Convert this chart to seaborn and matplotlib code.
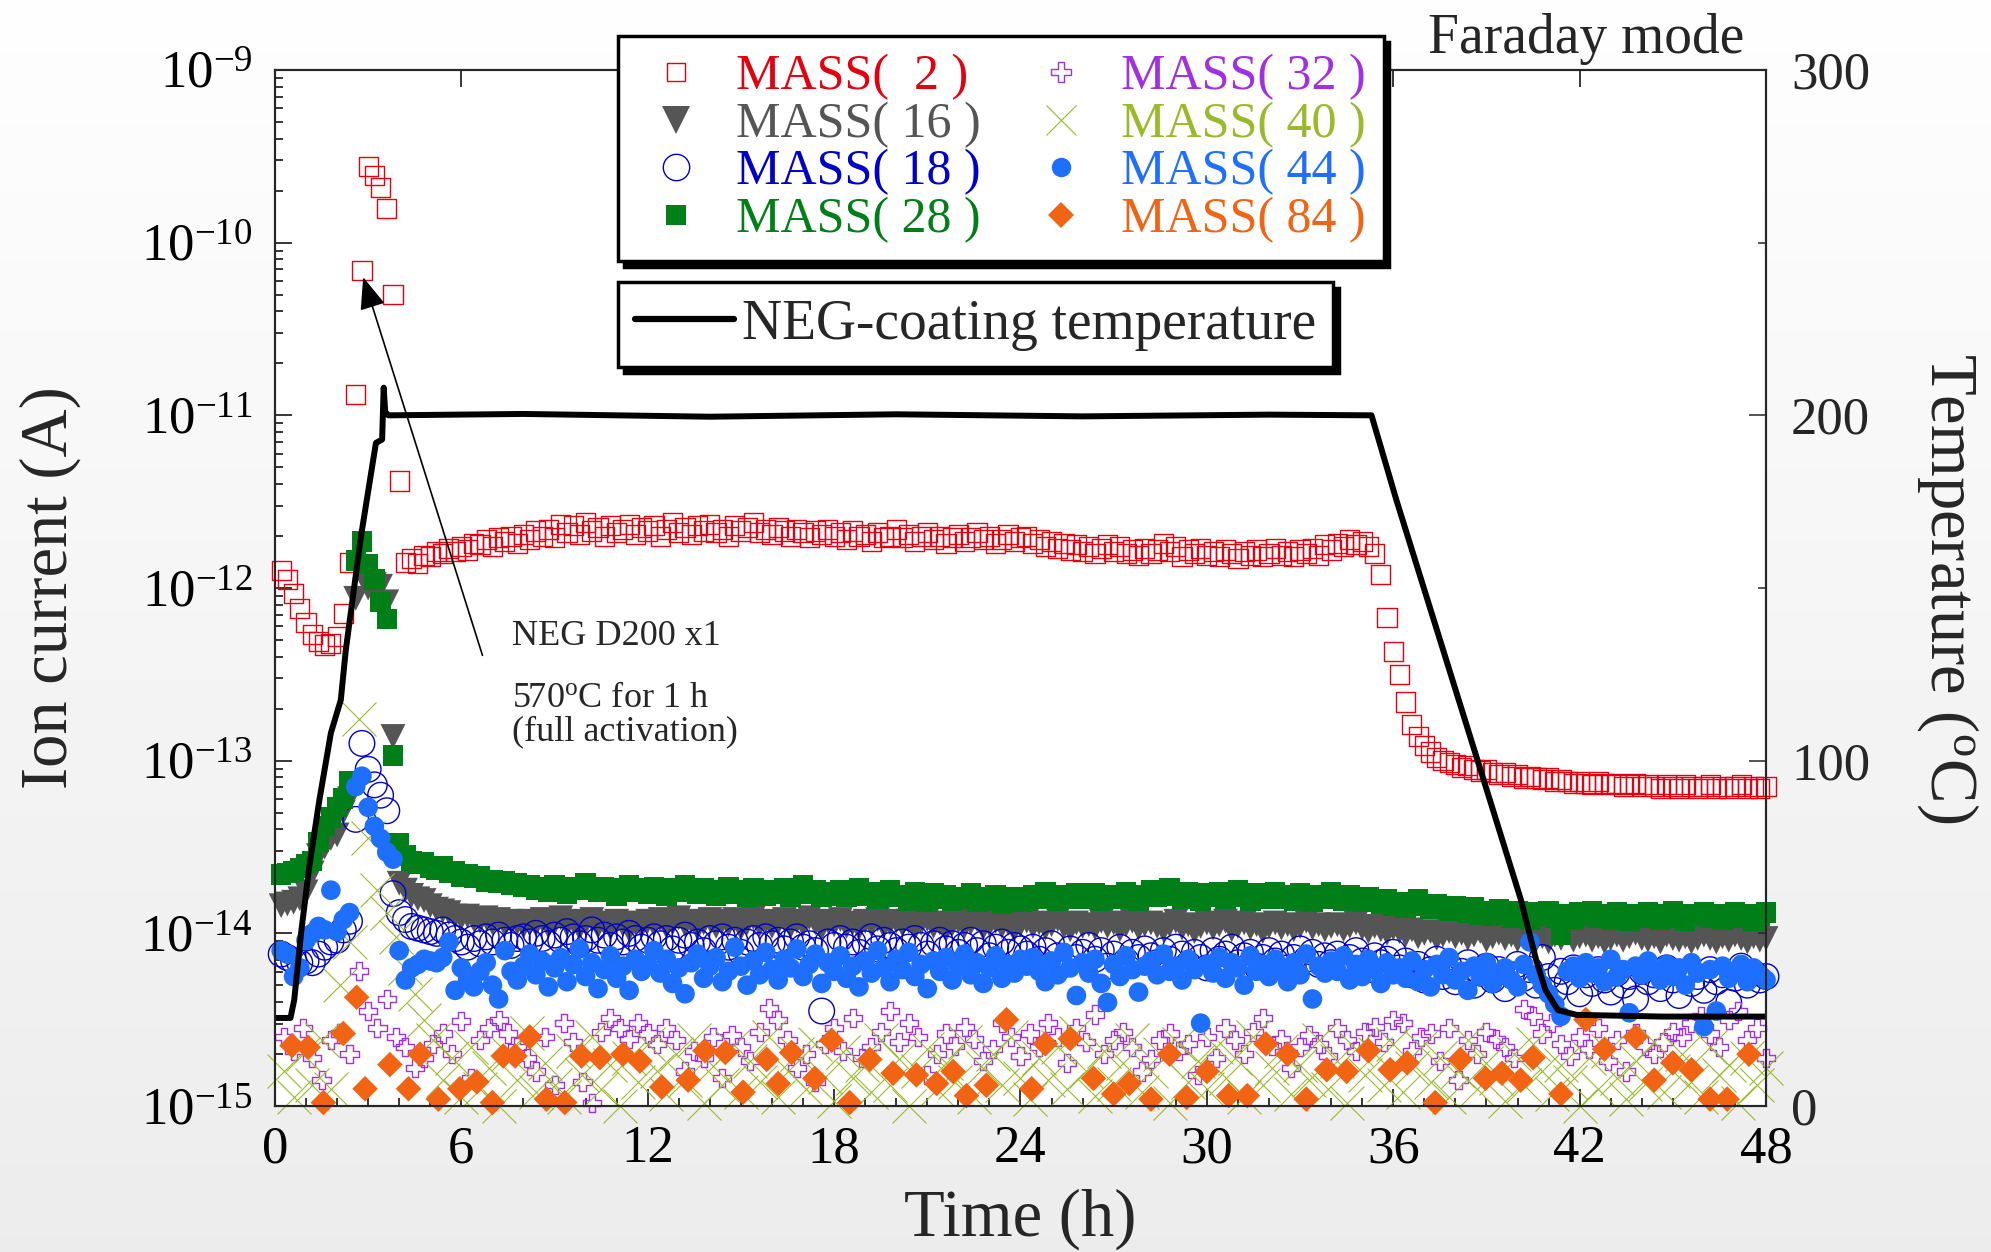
"""NEG D200 activation: RGA ion currents (Faraday mode) and coating temperature vs time."""

import matplotlib
matplotlib.use("Agg")
import matplotlib.pyplot as plt
import numpy as np
import pandas as pd
import seaborn as sns
from matplotlib.lines import Line2D
from matplotlib.ticker import LogLocator, MultipleLocator, NullFormatter

sns.set_theme(style="ticks")
plt.rcParams["font.family"] = ["Liberation Serif", "DejaVu Serif"]
plt.rcParams["mathtext.fontset"] = "custom"
plt.rcParams["mathtext.rm"] = "Liberation Serif"
plt.rcParams["mathtext.it"] = "Liberation Serif:italic"
plt.rcParams["mathtext.default"] = "regular"

# ---- data (log10 of ion current in A) ----
# dense scans: one reading every 0.2 h starting at 0.2 h
DENSE_STEP = 0.2
M2 = [
    -11.90, -11.95, -12.03, -12.12, -12.20, -12.27, -12.31, -12.33, -12.32, -12.28,
    -12.15, -11.85, -10.88, -10.16, -9.56, -9.61, -9.68, -9.80, -10.30, -11.38,
    -11.85, -11.83, -11.86, -11.81, -11.82, -11.79, -11.80, -11.77, -11.79, -11.76,
    -11.78, -11.74, -11.75, -11.72, -11.76, -11.71, -11.73, -11.70, -11.74, -11.69,
    -11.72, -11.67, -11.70, -11.66, -11.71, -11.63, -11.68, -11.64, -11.69, -11.62,
    -11.67, -11.65, -11.70, -11.64, -11.68, -11.66, -11.63, -11.69, -11.65, -11.67,
    -11.64, -11.70, -11.66, -11.62, -11.68, -11.65, -11.69, -11.64, -11.67, -11.63,
    -11.68, -11.66, -11.70, -11.64, -11.67, -11.65, -11.62, -11.68, -11.66, -11.69,
    -11.65, -11.67, -11.70, -11.66, -11.68, -11.71, -11.67, -11.69, -11.66, -11.70,
    -11.68, -11.72, -11.67, -11.70, -11.69, -11.73, -11.68, -11.71, -11.70, -11.66,
    -11.71, -11.69, -11.73, -11.70, -11.68, -11.72, -11.70, -11.74, -11.71, -11.69,
    -11.73, -11.71, -11.68, -11.72, -11.70, -11.74, -11.72, -11.69, -11.73, -11.71,
    -11.70, -11.74, -11.72, -11.76, -11.73, -11.77, -11.74, -11.78, -11.75, -11.79,
    -11.76, -11.80, -11.77, -11.75, -11.79, -11.76, -11.80, -11.78, -11.81, -11.77,
    -11.80, -11.78, -11.74, -11.79, -11.76, -11.82, -11.78, -11.80, -11.77, -11.81,
    -11.79, -11.82, -11.78, -11.80, -11.83, -11.79, -11.81, -11.78, -11.82, -11.80,
    -11.77, -11.81, -11.79, -11.82, -11.78, -11.80, -11.77, -11.81, -11.75, -11.78,
    -11.74, -11.76, -11.72, -11.75, -11.73, -11.76, -11.80, -11.92, -12.17, -12.37,
    -12.50, -12.66, -12.79, -12.86, -12.91, -12.95, -12.98, -13.00, -13.01, -13.02,
    -13.04, -13.03, -13.05, -13.06, -13.05, -13.07, -13.08, -13.07, -13.09, -13.08,
    -13.10, -13.09, -13.10, -13.11, -13.10, -13.12, -13.11, -13.12, -13.13, -13.12,
    -13.13, -13.14, -13.12, -13.13, -13.14, -13.13, -13.15, -13.14, -13.13, -13.15,
    -13.14, -13.15, -13.16, -13.14, -13.15, -13.16, -13.14, -13.15, -13.16, -13.15,
    -13.14, -13.16, -13.15, -13.16, -13.15, -13.14, -13.16, -13.15, -13.16, -13.15,
]
M16 = [
    -13.84, -13.83, -13.82, -13.80, -13.76, -13.65, -13.55, -13.50, -13.45, -13.43,
    -13.30, -13.22, -12.06, -11.92, -12.00, -11.98, -11.99, -12.08, -12.86, -13.71,
    -13.75, -13.78, -13.80, -13.81, -13.84, -13.86, -13.87, -13.88, -13.90, -13.91,
    -13.90, -13.92, -13.93, -13.91, -13.94, -13.92, -13.95, -13.93, -13.94, -13.96,
    -13.93, -13.95, -13.92, -13.96, -13.94, -13.91, -13.95, -13.93, -13.97, -13.94,
    -13.92, -13.96, -13.94, -13.97, -13.93, -13.95, -13.98, -13.94, -13.96, -13.93,
    -13.95, -13.92, -13.96, -13.94, -13.91, -13.95, -13.93, -13.97, -13.94, -13.92,
    -13.96, -13.93, -13.95, -13.92, -13.97, -13.94, -13.91, -13.95, -13.93, -13.96,
    -13.94, -13.92, -13.96, -13.93, -13.95, -13.91, -13.94, -13.97, -13.93, -13.95,
    -13.92, -13.96, -13.94, -13.97, -13.93, -13.95, -13.92, -13.96, -13.94, -13.93,
    -13.95, -13.93, -13.97, -13.94, -13.92, -13.96, -13.94, -13.98, -13.95, -13.93,
    -13.96, -13.94, -13.92, -13.97, -13.95, -13.93, -13.96, -13.94, -13.98, -13.95,
    -13.93, -13.96, -13.94, -13.97, -13.95, -13.92, -13.96, -13.98, -13.94, -13.96,
    -13.95, -13.97, -13.93, -13.96, -13.94, -13.98, -13.95, -13.93, -13.97, -13.95,
    -13.94, -13.96, -13.98, -13.95, -13.93, -13.97, -13.95, -13.99, -13.96, -13.94,
    -13.97, -13.95, -13.93, -13.98, -13.96, -13.94, -13.97, -13.95, -13.99, -13.96,
    -13.94, -13.97, -13.95, -13.98, -13.96, -13.93, -13.97, -13.95, -13.98, -13.96,
    -13.95, -13.98, -13.96, -13.94, -13.97, -13.99, -13.96, -13.98, -14.00, -13.97,
    -13.99, -14.01, -13.98, -14.02, -14.00, -13.99, -14.03, -14.01, -13.99, -14.02,
    -14.00, -14.03, -14.01, -13.99, -14.04, -14.02, -14.00, -14.03, -14.01, -14.04,
    -14.02, -14.00, -14.04, -14.02, -14.05, -14.01, -14.03, -14.00, -14.04, -14.02,
    -14.01, -14.04, -14.02, -14.05, -14.03, -14.01, -14.04, -14.02, -14.00, -14.03,
    -14.04, -14.02, -14.05, -14.01, -14.03, -14.04, -14.02, -14.05, -14.03, -14.01,
    -14.03, -14.05, -14.02, -14.04, -14.01, -14.03, -14.05, -14.02, -14.04, -14.03,
]
M18 = [
    -14.12, -14.14, -14.16, -14.17, -14.16, -14.17, -14.12, -14.08, -14.05, -14.04,
    -13.98, -13.93, -13.34, -12.90, -13.05, -13.14, -13.20, -13.29, -13.77, -13.88,
    -13.92, -13.96, -13.97, -13.98, -13.99, -14.00, -13.98, -14.01, -14.03, -14.05,
    -14.08, -14.03, -14.06, -14.02, -14.05, -14.01, -14.04, -14.07, -14.03, -14.02,
    -14.05, -14.00, -14.03, -14.06, -14.01, -14.04, -13.99, -14.02, -14.06, -14.03,
    -13.98, -14.04, -14.01, -14.07, -14.02, -14.05, -14.00, -14.03, -14.08, -14.04,
    -14.02, -14.06, -14.03, -14.09, -14.04, -14.01, -14.07, -14.05, -14.10, -14.03,
    -14.06, -14.02, -14.08, -14.04, -14.11, -14.05, -14.03, -14.07, -14.02, -14.06,
    -14.04, -14.09, -14.05, -14.02, -14.08, -14.06, -14.10, -14.45, -14.05, -14.07,
    -14.03, -14.08, -14.05, -14.11, -14.06, -14.02, -14.09, -14.04, -14.07, -14.10,
    -14.05, -14.08, -14.03, -14.07, -14.12, -14.06, -14.04, -14.09, -14.06, -14.11,
    -14.07, -14.04, -14.10, -14.06, -14.13, -14.08, -14.05, -14.11, -14.07, -14.09,
    -14.12, -14.08, -14.15, -14.10, -14.06, -14.13, -14.18, -14.09, -14.14, -14.11,
    -14.07, -14.15, -14.10, -14.19, -14.12, -14.08, -14.16, -14.11, -14.14, -14.09,
    -14.13, -14.17, -14.10, -14.15, -14.08, -14.12, -14.18, -14.11, -14.14, -14.20,
    -14.10, -14.15, -14.12, -14.08, -14.17, -14.13, -14.11, -14.19, -14.14, -14.10,
    -14.16, -14.12, -14.20, -14.14, -14.09, -14.15, -14.11, -14.18, -14.13, -14.17,
    -14.12, -14.19, -14.14, -14.10, -14.16, -14.21, -14.13, -14.17, -14.15, -14.11,
    -14.20, -14.16, -14.24, -14.18, -14.27, -14.21, -14.15, -14.25, -14.19, -14.28,
    -14.22, -14.17, -14.30, -14.23, -14.19, -14.27, -14.21, -14.32, -14.24, -14.18,
    -14.26, -14.21, -14.30, -14.14, -14.25, -14.33, -14.22, -14.28, -14.20, -14.35,
    -14.24, -14.29, -14.21, -14.27, -14.34, -14.23, -14.30, -14.25, -14.38, -14.22,
    -14.28, -14.24, -14.32, -14.20, -14.27, -14.36, -14.23, -14.29, -14.25, -14.33,
    -14.21, -14.28, -14.24, -14.40, -14.26, -14.19, -14.30, -14.23, -14.27, -14.25,
]
M28 = [
    -13.66, -13.65, -13.64, -13.62, -13.60, -13.58, -13.47, -13.38, -13.33, -13.27,
    -13.22, -13.12, -11.84, -11.73, -11.86, -11.95, -12.08, -12.18, -12.97, -13.48,
    -13.55, -13.58, -13.60, -13.59, -13.62, -13.63, -13.61, -13.65, -13.64, -13.67,
    -13.66, -13.68, -13.67, -13.70, -13.69, -13.71, -13.70, -13.72, -13.71, -13.73,
    -13.72, -13.75, -13.73, -13.76, -13.72, -13.74, -13.77, -13.73, -13.75, -13.71,
    -13.74, -13.76, -13.73, -13.75, -13.78, -13.74, -13.72, -13.76, -13.74, -13.77,
    -13.73, -13.75, -13.78, -13.74, -13.76, -13.72, -13.75, -13.77, -13.74, -13.76,
    -13.78, -13.75, -13.73, -13.77, -13.75, -13.79, -13.74, -13.76, -13.78, -13.75,
    -13.77, -13.74, -13.79, -13.76, -13.72, -13.77, -13.75, -13.79, -13.76, -13.78,
    -13.75, -13.79, -13.77, -13.74, -13.78, -13.76, -13.80, -13.77, -13.75, -13.79,
    -13.78, -13.81, -13.76, -13.79, -13.82, -13.77, -13.80, -13.78, -13.81, -13.79,
    -13.80, -13.77, -13.82, -13.79, -13.81, -13.78, -13.83, -13.80, -13.79, -13.82,
    -13.81, -13.78, -13.80, -13.76, -13.79, -13.81, -13.78, -13.80, -13.77, -13.79,
    -13.80, -13.77, -13.81, -13.79, -13.78, -13.80, -13.76, -13.79, -13.81, -13.78,
    -13.75, -13.79, -13.77, -13.74, -13.78, -13.80, -13.76, -13.79, -13.81, -13.77,
    -13.79, -13.76, -13.80, -13.78, -13.75, -13.79, -13.81, -13.77, -13.80, -13.78,
    -13.76, -13.80, -13.78, -13.81, -13.77, -13.79, -13.82, -13.78, -13.80, -13.76,
    -13.79, -13.81, -13.78, -13.80, -13.82, -13.79, -13.81, -13.83, -13.80, -13.84,
    -13.82, -13.85, -13.83, -13.80, -13.84, -13.86, -13.83, -13.85, -13.87, -13.84,
    -13.86, -13.88, -13.85, -13.89, -13.87, -13.90, -13.86, -13.88, -13.91, -13.87,
    -13.89, -13.92, -13.88, -13.90, -13.87, -13.91, -14.01, -13.89, -13.92, -13.88,
    -13.90, -13.87, -13.91, -13.89, -13.92, -13.88, -13.90, -13.93, -13.89, -13.91,
    -13.88, -13.90, -13.92, -13.89, -13.87, -13.91, -13.93, -13.89, -13.90, -13.88,
    -13.91, -13.89, -13.92, -13.90, -13.88, -13.91, -13.89, -13.93, -13.90, -13.88,
]
M44 = [
    -14.10, -14.12, -14.25, -14.20, -14.04, -14.00, -13.96, -13.98, -13.75, -13.99,
    -13.92, -13.88, -13.15, -13.09, -13.27, -13.38, -13.45, -13.53, -13.57, -14.10,
    -14.27, -14.20, -14.18, -14.15, -14.16, -14.17, -14.14, -14.05, -14.33, -14.20,
    -14.27, -14.31, -14.22, -14.17, -14.30, -14.38, -14.10, -14.22, -14.27, -14.19,
    -14.12, -14.24, -14.16, -14.31, -14.20, -14.14, -14.28, -14.18, -14.09, -14.25,
    -14.17, -14.32, -14.21, -14.13, -14.26, -14.19, -14.33, -14.15, -14.22, -14.18,
    -14.10, -14.23, -14.15, -14.29, -14.20, -14.35, -14.17, -14.12, -14.26, -14.19,
    -14.14, -14.28, -14.22, -14.08, -14.19, -14.30, -14.16, -14.24, -14.11, -14.21,
    -14.27, -14.15, -14.20, -14.09, -14.25, -14.18, -14.12, -14.29, -14.17, -14.22,
    -14.13, -14.26, -14.19, -14.31, -14.16, -14.23, -14.10, -14.20, -14.28, -14.15,
    -14.21, -14.11, -14.25, -14.18, -14.32, -14.16, -14.22, -14.14, -14.27, -14.19,
    -14.12, -14.24, -14.17, -14.29, -14.20, -14.13, -14.26, -14.18, -14.23, -14.15,
    -14.19, -14.14, -14.22, -14.28, -14.16, -14.24, -14.11, -14.20, -14.36, -14.17,
    -14.23, -14.15, -14.29, -14.40, -14.18, -14.25, -14.13, -14.21, -14.34, -14.19,
    -14.16, -14.24, -14.12, -14.22, -14.19, -14.27, -14.15, -14.21, -14.52, -14.18,
    -14.23, -14.14, -14.26, -14.17, -14.20, -14.30, -14.13, -14.22, -14.18, -14.25,
    -14.15, -14.21, -14.28, -14.17, -14.24, -14.12, -14.38, -14.19, -14.23, -14.16,
    -14.22, -14.13, -14.27, -14.18, -14.25, -14.15, -14.21, -14.29, -14.17, -14.24,
    -14.20, -14.26, -14.16, -14.28, -14.21, -14.31, -14.18, -14.24, -14.14, -14.27,
    -14.22, -14.33, -14.19, -14.25, -14.17, -14.29, -14.23, -14.20, -14.27, -14.31,
    -14.18, -14.05, -14.24, -14.30, -14.35, -14.41, -14.48, -14.22, -14.19, -14.26,
    -14.17, -14.23, -14.20, -14.28, -14.15, -14.25, -14.21, -14.46, -14.19, -14.24,
    -14.16, -14.22, -14.27, -14.18, -14.25, -14.20, -14.30, -14.17, -14.23, -14.54,
    -14.21, -14.45, -14.19, -14.26, -14.22, -14.18, -14.28, -14.20, -14.24, -14.27,
]
# sparse scans: one reading every 0.3 h starting at 0.3 h
SPARSE_STEP = 0.3
M32 = [
    -14.60, -14.68, -14.55, -14.72, -14.85, -14.62, -14.58, -14.70, -14.22, -14.45,
    -14.55, -14.38, -14.60, -14.66, -14.78, -14.72, -14.64, -14.58, -14.70, -14.51,
    -14.84, -14.62, -14.55, -14.50, -14.58, -14.66, -14.72, -14.80, -14.60, -14.88,
    -14.52, -14.63, -14.86, -14.98, -14.57, -14.49, -14.55, -14.61, -14.52, -14.58,
    -14.64, -14.55, -14.62, -14.80, -14.68, -14.72, -14.60, -14.84, -14.59, -14.66,
    -14.74, -14.57, -14.43, -14.50, -14.62, -14.78, -14.70, -14.86, -14.64, -14.55,
    -14.68, -14.49, -14.72, -14.66, -14.57, -14.45, -14.63, -14.52, -14.60, -14.82,
    -14.70, -14.58, -14.65, -14.54, -14.61, -14.74, -14.67, -14.52, -14.60, -14.71,
    -14.58, -14.66, -14.52, -14.60, -14.75, -14.55, -14.63, -14.47, -14.70, -14.62,
    -14.57, -14.66, -14.80, -14.73, -14.62, -14.58, -14.68, -14.64, -14.82, -14.60,
    -14.72, -14.55, -14.62, -14.70, -14.57, -14.49, -14.65, -14.61, -14.78, -14.66,
    -14.59, -14.64, -14.71, -14.55, -14.62, -14.68, -14.57, -14.54, -14.63, -14.50,
    -14.52, -14.68, -14.60, -14.58, -14.74, -14.55, -14.85, -14.62, -14.70, -14.57,
    -14.61, -14.66, -14.72, -14.44, -14.48, -14.58, -14.52, -14.64, -14.71, -14.60,
    -14.67, -14.55, -14.74, -14.62, -14.80, -14.58, -14.65, -14.70, -14.63, -14.57,
    -14.60, -14.52, -14.48, -14.58, -14.66, -14.50, -14.45, -14.62, -14.55, -14.72,
]
M40 = [
    -14.80, -14.95, -14.70, -14.88, -14.62, -14.90, -14.30, -14.05, -12.76, -13.45,
    -13.75, -13.88, -14.02, -14.20, -14.35, -14.50, -14.62, -14.85, -14.72, -14.95,
    -14.66, -14.90, -14.78, -15.00, -14.70, -14.85, -14.58, -14.92, -14.75, -14.88,
    -14.95, -14.68, -14.82, -14.60, -14.90, -14.76, -15.00, -14.72, -14.86, -14.64,
    -14.80, -14.93, -14.70, -14.85, -14.62, -14.98, -14.77, -14.88, -14.66, -14.92,
    -14.74, -14.86, -14.60, -14.95, -14.80, -14.70, -14.90, -14.64, -14.83, -14.97,
    -14.69, -14.84, -14.76, -14.92, -14.62, -14.88, -14.73, -15.00, -14.80, -14.67,
    -14.90, -14.75, -14.86, -14.63, -14.95, -14.78, -14.70, -14.88, -14.60, -14.84,
    -14.96, -14.72, -14.85, -14.66, -14.90, -14.58, -14.80, -14.94, -14.68, -14.87,
    -14.75, -14.62, -14.92, -14.80, -14.70, -14.98, -14.64, -14.86, -14.74, -14.90,
    -14.66, -14.84, -14.72, -14.95, -14.60, -14.88, -14.78, -14.68, -14.93, -14.76,
    -14.85, -14.62, -14.90, -14.74, -14.98, -14.67, -14.82, -14.70, -14.88, -14.64,
    -14.92, -14.78, -14.66, -14.86, -14.72, -14.95, -14.80, -14.62, -14.90, -14.75,
    -14.84, -14.97, -14.70, -14.88, -14.64, -14.80, -14.93, -14.76, -14.86, -15.00,
    -14.72, -14.90, -14.68, -14.84, -14.96, -14.74, -14.87, -14.63, -14.92, -14.80,
    -14.70, -14.86, -14.95, -14.66, -14.82, -14.76, -14.98, -14.72, -14.88, -14.78,
]
# mass 84 is logged irregularly: explicit times (h)
T84 = [
    0.55, 1.07, 1.56, 2.2, 2.63, 2.9, 3.7, 4.3, 4.67, 5.26, 5.95, 6.5, 7.0, 7.35,
    7.73, 8.2, 8.74, 9.33, 9.87, 10.46, 11.2, 11.75,
    12.45, 13.3, 13.84, 14.5, 15.07, 15.83, 16.2, 16.63, 17.38, 17.92, 18.5, 19.15,
    19.9, 20.65, 21.3, 21.83, 22.26, 22.9, 23.55,
    24.36, 24.8, 25.6, 26.35, 27.0, 27.5, 28.2, 28.8, 29.35, 30.0, 30.7, 31.3, 31.9,
    32.6, 33.2, 33.86, 34.5, 35.2, 35.9,
    36.45, 37.35, 38.16, 38.97, 39.5, 40.1, 40.5, 41.4, 42.2, 42.8, 43.8, 44.4, 45.0,
    45.6, 46.2, 46.75, 47.45,
]
M84 = [
    -14.65, -14.66, -14.98, -14.58, -14.37, -14.90, -14.76, -14.90, -14.70, -14.96,
    -14.90, -14.86, -14.98, -14.71, -14.71, -14.60, -14.96, -14.98, -14.71, -14.72,
    -14.70, -14.74,
    -14.89, -14.85, -14.68, -14.69, -14.92, -14.73, -14.87, -14.69, -14.84, -14.62,
    -14.98, -14.73, -14.81, -14.82, -14.87, -14.80, -14.94, -14.88, -14.50,
    -14.90, -14.64, -14.61, -14.84, -14.93, -14.87, -14.96, -14.70, -14.95, -14.80,
    -14.94, -14.94, -14.64, -14.70, -14.96, -14.79, -14.80, -14.68, -14.79,
    -14.75, -14.98, -14.73, -14.84, -14.81, -14.85, -14.72, -14.93, -14.50, -14.67,
    -14.60, -14.85, -14.75, -14.79, -14.96, -14.96, -14.70,
]
# NEG coating temperature (thermocouple)
TEMP_T = [0.0, 0.5, 0.62, 0.84, 1.1, 1.43, 1.8, 2.12, 2.28, 2.77, 3.25, 3.45, 3.5, 3.55,
          3.65, 8.0, 14.0, 20.0, 26.0, 32.0, 35.3, 36.1, 38.8, 40.1, 40.6, 40.9, 41.3,
          41.9, 44.65, 48.0]
TEMP_C = [25.5, 25.5, 30.7, 50, 69, 88.6, 108, 117.6, 132, 165, 192, 193, 208, 201,
          200, 200.4, 199.6, 200.3, 199.7, 200.2, 200, 175.5, 97.6, 60, 42.3, 33.6, 27.8,
          26.4, 25.9, 25.9]

RED, GRAY, BLUE_D, GREEN = "#e3000f", "#555555", "#0000cc", "#007f18"
PURPLE, OLIVE, BLUE, ORANGE = "#a030e0", "#9aba2c", "#1f6fff", "#f06414"

# label, values, step, marker, color, size, open, lw, legend markersize
SERIES = [
    ("MASS(  2 )", M2, DENSE_STEP, "s", RED, 190, True, 1.0, 13),
    ("MASS( 16 )", M16, DENSE_STEP, "v", GRAY, 320, False, 0.0, 20),
    ("MASS( 18 )", M18, DENSE_STEP, "o", BLUE_D, 340, True, 1.0, 19),
    ("MASS( 28 )", M28, DENSE_STEP, "s", GREEN, 215, False, 0.0, 14),
    ("MASS( 32 )", M32, SPARSE_STEP, "P", PURPLE, 170, True, 1.0, 14),
    ("MASS( 40 )", M40, SPARSE_STEP, "x", OLIVE, 600, False, 0.8, 22),
    ("MASS( 44 )", M44, DENSE_STEP, "o", BLUE, 200, False, 0.0, 14),
    ("MASS( 84 )", M84, None, "D", ORANGE, 170, False, 0.0, 13),
]


def main():
    fig = plt.figure(figsize=(19.91, 12.52), dpi=100)

    # soft grey page gradient behind everything
    bg = fig.add_axes([0, 0, 1, 1], zorder=-10)
    bg.imshow(np.linspace(0.995, 0.925, 256)[:, None], aspect="auto", cmap="gray",
              vmin=0, vmax=1, extent=(0, 1, 0, 1))
    bg.axis("off")

    ax = fig.add_axes([0.1381, 0.1166, 0.7489, 0.8275])
    ax.set_zorder(1)
    ax.set_facecolor("white")
    ax.set_yscale("log")

    handles, labels, label_colors = [], [], []
    for label, vals, step, marker, color, size, is_open, lw, ms in SERIES:
        if step is None:
            t = np.array(T84)
        else:
            t = step * np.arange(1, len(vals) + 1)
        df = pd.DataFrame({"t": t, "current": 10.0 ** np.array(vals)})
        ec = color if (is_open or marker == "x") else "none"
        sns.scatterplot(data=df, x="t", y="current", ax=ax, marker=marker, s=size,
                        color=color, edgecolor=ec, linewidth=lw if lw else 0,
                        clip_on=False, zorder=3)
        if is_open:
            ax.collections[-1].set_facecolor("none")
        handles.append(Line2D([], [], ls="none", marker=marker, markersize=ms,
                              markerfacecolor="none" if is_open else color,
                              markeredgecolor=color,
                              markeredgewidth=lw if lw else 0.0))
        labels.append(label)
        label_colors.append(color)

    ax.set_xlim(0, 48)
    ax.set_ylim(1e-15, 1e-9)
    ax.xaxis.set_major_locator(MultipleLocator(6))
    ax.xaxis.set_minor_locator(MultipleLocator(1))
    ax.yaxis.set_major_locator(LogLocator(base=10, numticks=10))
    ax.yaxis.set_minor_locator(LogLocator(base=10, subs=np.arange(2, 10), numticks=10))
    ax.yaxis.set_minor_formatter(NullFormatter())
    ax.tick_params(which="both", direction="in", width=1.1, colors="black", labelsize=38)
    ax.tick_params(which="major", length=12)
    ax.tick_params(which="minor", length=6)
    ax.tick_params(axis="x", top=True, pad=14)
    ax.tick_params(axis="y", left=True, right=False, pad=16)
    for sp in ax.spines.values():
        sp.set_linewidth(1.5)
        sp.set_color("black")
    ax.set_xlabel("Time (h)", fontsize=48)
    ax.set_ylabel("Ion current (A)", fontsize=48)
    ax.xaxis.set_label_coords(0.5, -0.08)
    ax.yaxis.set_label_coords(-0.13, 0.5)

    # temperature on the right axis
    ax2 = ax.twinx()
    ax2.set_zorder(2)
    ax2.patch.set_visible(False)
    sns.lineplot(x=TEMP_T, y=TEMP_C, ax=ax2, color="black", linewidth=4.3,
                 sort=False, estimator=None)
    ax2.set_ylim(0, 300)
    ax2.set_xlim(0, 48)
    ax2.yaxis.set_major_locator(MultipleLocator(100))
    ax2.yaxis.set_minor_locator(MultipleLocator(50))
    ax2.tick_params(axis="y", which="both", direction="in", width=1.1, labelsize=38, pad=18)
    ax2.tick_params(axis="y", which="major", length=12)
    ax2.tick_params(axis="y", which="minor", length=6)
    for sp in ax2.spines.values():
        sp.set_linewidth(1.5)
    ax2.set_ylabel("Temperature ($^{\\rm o}$C)", fontsize=48, rotation=270, va="bottom")
    ax2.yaxis.set_label_coords(1.1, 0.5)

    # annotation of the activation step
    ax.annotate("", xy=(2.84, 10 ** -10.2), xytext=(6.68, 10 ** -12.39),
                arrowprops=dict(arrowstyle="-|>,head_length=0.5,head_width=0.2",
                                color="black", lw=1.2, mutation_scale=40,
                                shrinkA=0, shrinkB=0), zorder=6)
    ax.text(7.63, 10 ** -12.33, "NEG D200 x1", fontsize=26, zorder=6)
    ax.text(7.63, 10 ** -12.69, "570$^{\\rm o}$C for 1 h", fontsize=26, zorder=6)
    ax.text(7.63, 10 ** -12.88, "(full activation)", fontsize=26, zorder=6)

    shadow = {"ox": 4, "oy": -4, "color": "black", "alpha": 1}
    leg1 = fig.legend(handles, labels, ncol=2, loc="upper left",
                      bbox_to_anchor=(0.3104, 0.9712), bbox_transform=fig.transFigure,
                      fontsize=36, labelcolor=label_colors, frameon=True, fancybox=False,
                      shadow=shadow, edgecolor="black", framealpha=1, borderaxespad=0,
                      borderpad=0.36, handlelength=1.6, handletextpad=0.4,
                      columnspacing=0.8, labelspacing=0.02)
    leg1.get_frame().set_linewidth(2.5)
    leg2 = fig.legend([Line2D([], [], color="black", lw=4.5)], ["NEG-coating temperature"],
                      loc="upper left", bbox_to_anchor=(0.3104, 0.7748),
                      bbox_transform=fig.transFigure, fontsize=40, frameon=True,
                      fancybox=False, shadow=shadow, edgecolor="black", framealpha=1,
                      borderaxespad=0, borderpad=0.3, handlelength=1.78,
                      handletextpad=0.16)
    leg2.get_frame().set_linewidth(2.5)

    fig.text(0.876, 0.958, "Faraday mode", ha="right", va="baseline", fontsize=40)

    fig.savefig("out.png", dpi=100)
    plt.close(fig)


if __name__ == "__main__":
    main()
